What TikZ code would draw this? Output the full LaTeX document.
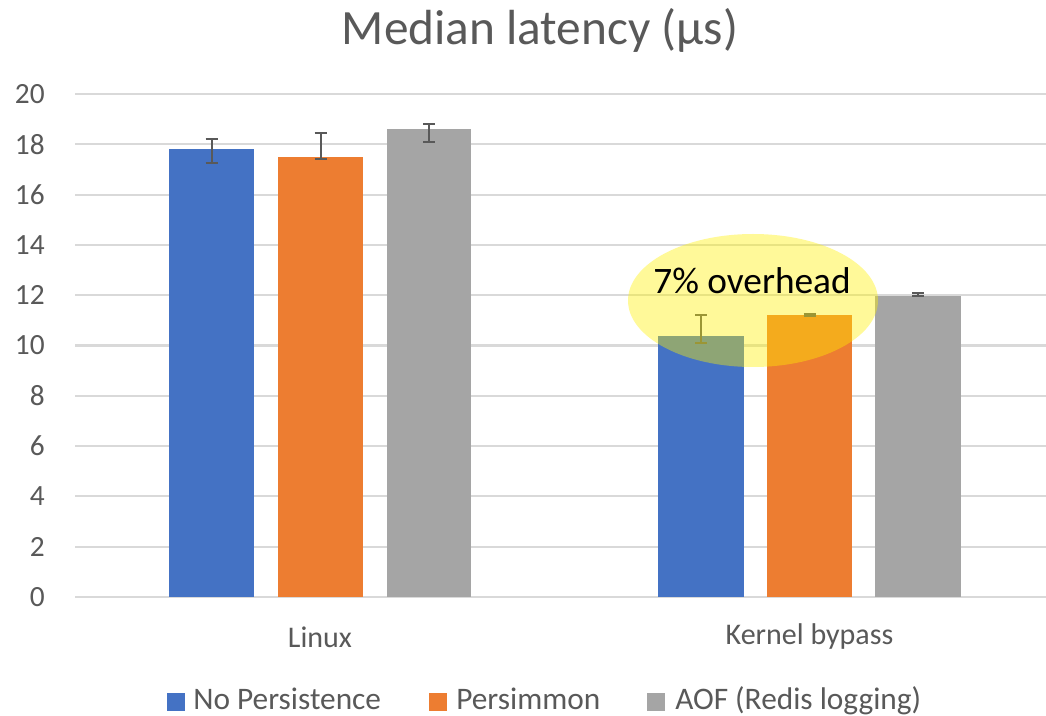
\documentclass[tikz,border=0pt]{standalone}
\usepackage{fontspec}
\setmainfont{Carlito}
\definecolor{txt}{HTML}{595959}
\definecolor{gridc}{HTML}{D9D9D9}
\definecolor{sblue}{HTML}{4472C4}
\definecolor{sorange}{HTML}{ED7D31}
\definecolor{sgray}{HTML}{A5A5A5}
\definecolor{errc}{HTML}{595959}
\tikzset{
  gridline/.style={draw=gridc, line width=1.6pt},
  ticklabel/.style={anchor=east, text=txt, font=\fontsize{22}{26}\selectfont, inner sep=0pt},
  catlabel/.style={text=txt, font=\fontsize{22.5}{26}\selectfont, inner sep=0pt},
  legtext/.style={anchor=base west, text=txt, font=\fontsize{23.5}{28}\selectfont, inner sep=0pt},
  errbar/.style={draw=errc, line width=1.5pt},
  highlight/.style={fill=yellow, fill opacity=0.4},
}
\begin{document}
\begin{tikzpicture}[x=0.75pt, y=-0.75pt]
\useasboundingbox (0,0) rectangle (1046,716);
\fill[white] (0,0) rectangle (1046,716);

% title
\node[text=txt, font=\fontsize{37}{44}\selectfont, inner sep=0pt] (title) at (540,30) {Median latency (μs)};

% value axis: gridlines and labels, 0 at y=597, 25.15 px per unit
\foreach \v in {0,2,...,20} {
  \draw[gridline] (75,{597-25.15*\v}) -- (1046,{597-25.15*\v});
  \node[ticklabel] (tick\v) at (45,{597-25.15*\v}) {\v};
}

% bars: left/right/top (pixels) / colour
\foreach \xa/\xb/\top/\col in {
    169/254/149/sblue, 278/363/157/sorange, 387/471/129/sgray,
    658/744/336/sblue, 767/852/315/sorange, 875/961/296/sgray} {
  \fill[\col] (\xa,\top) rectangle (\xb,597);
}

% error bars: centre x / upper / lower
\foreach \xc/\ya/\yb in {
    211.5/139/163.5, 320.5/133/159.5, 429/124/142,
    701/315.5/343, 809.5/314.5/316.5, 918/293.5/296.5} {
  \draw[errbar] (\xc,\ya) -- (\xc,\yb);
  \draw[errbar] (\xc-6,\ya) -- (\xc+6,\ya);
  \draw[errbar] (\xc-6,\yb) -- (\xc+6,\yb);
}

% highlighted annotation
\fill[highlight] (753,300.5) ellipse [x radius=125, y radius=66.5];
\node[font=\fontsize{28}{33}\selectfont, text=black, inner sep=0pt, anchor=base] (note) at (752,294) {7\% overhead};

% category labels
\node[catlabel] (linux) at (320,637) {Linux};
\node[catlabel] (kbypass) at (809.5,637) {Kernel bypass};

% legend
\fill[sblue] (167,693) rectangle (185,711);
\node[legtext] (leg1) at (193,709) {No Persistence};
\fill[sorange] (429,693) rectangle (447,711);
\node[legtext] (leg2) at (456,709) {Persimmon};
\fill[sgray] (647,693) rectangle (665,711);
\node[legtext] (leg3) at (675,709) {AOF (Redis logging)};
\end{tikzpicture}
\end{document}
